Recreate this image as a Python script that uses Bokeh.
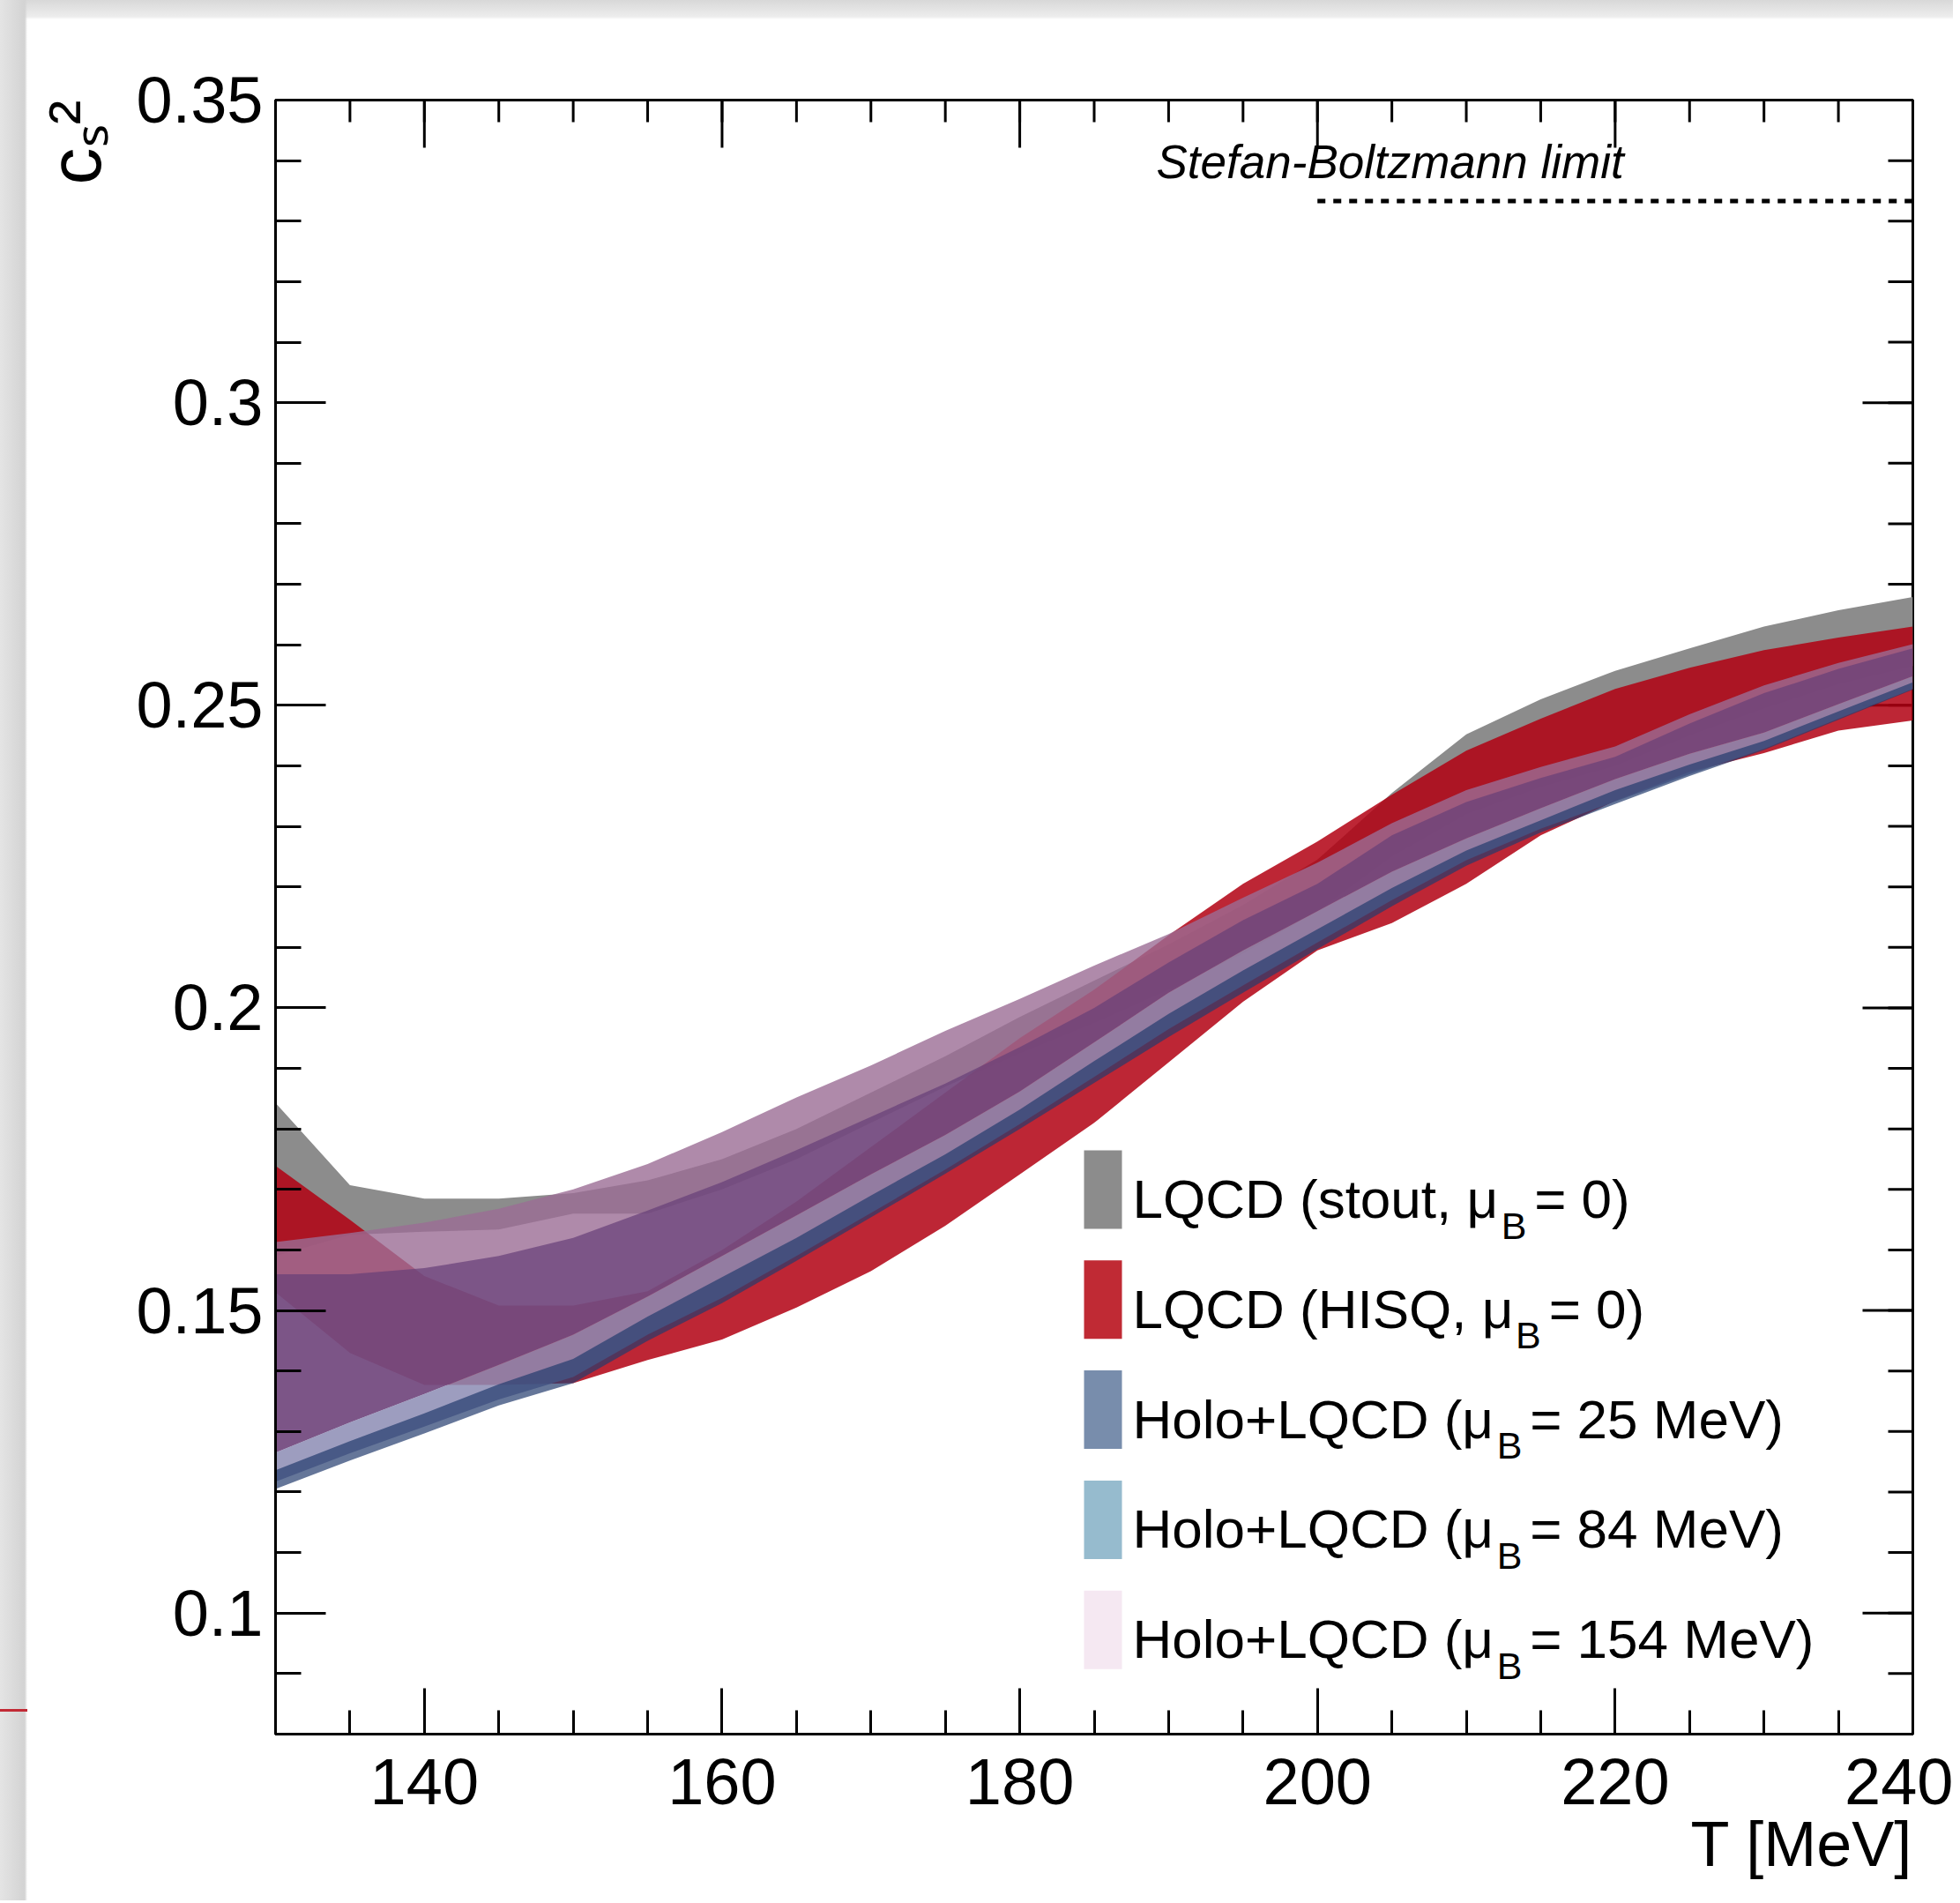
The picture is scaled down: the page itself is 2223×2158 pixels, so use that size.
import math
from bokeh.plotting import figure
from bokeh.models import Range1d, FixedTicker, LinearAxis, Label, BoxAnnotation, Title
from bokeh.embed import file_html
from bokeh.resources import INLINE

# ---------------- data ----------------
T = [130, 135, 140, 145, 150, 155, 160, 165, 170, 175, 180, 185,
     190, 195, 200, 205, 210, 215, 220, 225, 230, 235, 240]

# LQCD stout (mu_B = 0)
stout_lo = [0.1590, 0.1625, 0.1630, 0.1634, 0.1660, 0.1660, 0.1700, 0.1750, 0.1810, 0.1870, 0.1925, 0.1975,
            0.2030, 0.2090, 0.2160, 0.2250, 0.2320, 0.2365, 0.2400, 0.2450, 0.2495, 0.2535, 0.2565]
stout_hi = [0.1843, 0.1707, 0.1685, 0.1685, 0.1694, 0.1715, 0.1750, 0.1800, 0.1860, 0.1920, 0.1985, 0.2045,
            0.2105, 0.2170, 0.2245, 0.2355, 0.2452, 0.2510, 0.2557, 0.2594, 0.2630, 0.2657, 0.2679]

# LQCD HISQ (mu_B = 0)
hisq_lo = [0.1530, 0.1430, 0.1377, 0.1377, 0.1380, 0.1418, 0.1452, 0.1505, 0.1565, 0.1640, 0.1725, 0.1810,
           0.1910, 0.2010, 0.2095, 0.2140, 0.2205, 0.2285, 0.2342, 0.2390, 0.2421, 0.2458, 0.2475]
hisq_hi = [0.1739, 0.1650, 0.1557, 0.1508, 0.1508, 0.1532, 0.1600, 0.1680, 0.1770, 0.1860, 0.1950, 0.2030,
           0.2120, 0.2205, 0.2275, 0.2352, 0.2425, 0.2478, 0.2527, 0.2562, 0.2591, 0.2612, 0.2630]

# Holo+LQCD, mu_B = 25 MeV
holo25_lo = [0.1205, 0.1252, 0.1297, 0.1343, 0.1380, 0.1450, 0.1512, 0.1582, 0.1654, 0.1726, 0.1800, 0.1876,
             0.1952, 0.2025, 0.2097, 0.2168, 0.2235, 0.2290, 0.2337, 0.2383, 0.2426, 0.2476, 0.2526]
holo25_hi = [0.1236, 0.1284, 0.1330, 0.1378, 0.1420, 0.1490, 0.1555, 0.1620, 0.1690, 0.1758, 0.1832, 0.1912,
             0.1990, 0.2062, 0.2130, 0.2198, 0.2260, 0.2310, 0.2360, 0.2402, 0.2441, 0.2490, 0.2538]

# Holo+LQCD, mu_B = 84 MeV
holo84_lo = [0.1217, 0.1264, 0.1308, 0.1353, 0.1390, 0.1460, 0.1521, 0.1590, 0.1661, 0.1733, 0.1808, 0.1886,
             0.1965, 0.2037, 0.2108, 0.2178, 0.2244, 0.2296, 0.2341, 0.2386, 0.2428, 0.2478, 0.2527]
holo84_hi = [0.1265, 0.1315, 0.1362, 0.1410, 0.1460, 0.1523, 0.1590, 0.1657, 0.1725, 0.1790, 0.1862, 0.1943,
             0.2025, 0.2095, 0.2160, 0.2225, 0.2280, 0.2330, 0.2378, 0.2420, 0.2455, 0.2502, 0.2548]

# Holo+LQCD, mu_B = 154 MeV (core and outer envelope, lower edge = holo84_hi)
holo154_core_hi = [0.1560, 0.1560, 0.1570, 0.1590, 0.1620, 0.1665, 0.1712, 0.1765, 0.1820, 0.1875, 0.1935, 0.2000,
                   0.2075, 0.2145, 0.2205, 0.2285, 0.2340, 0.2380, 0.2415, 0.2470, 0.2520, 0.2560, 0.2594]
holo154_outer_hi = [0.1613, 0.1628, 0.1645, 0.1668, 0.1700, 0.1742, 0.1795, 0.1852, 0.1905, 0.1962, 0.2015, 0.2070,
                    0.2122, 0.2182, 0.2240, 0.2305, 0.2360, 0.2398, 0.2432, 0.2485, 0.2533, 0.2570, 0.2601]

# Stefan-Boltzmann limit
sb_T = [200, 240]
sb_val = [1.0 / 3.0, 1.0 / 3.0]

x_major = [140, 160, 180, 200, 220, 240]
x_labels = ["140", "160", "180", "200", "220", "240"]
x_minor = [130, 135, 140, 145, 150, 155, 160, 165, 170, 175, 180, 185, 190, 195, 200, 205, 210, 215, 220, 225, 230, 235, 240]
y_major = [0.1, 0.15, 0.2, 0.25, 0.3, 0.35]
y_labels = ["0.1", "0.15", "0.2", "0.25", "0.3", "0.35"]
y_minor = [0.08, 0.09, 0.10, 0.11, 0.12, 0.13, 0.14, 0.15, 0.16, 0.17, 0.18, 0.19, 0.20, 0.21,
           0.22, 0.23, 0.24, 0.25, 0.26, 0.27, 0.28, 0.29, 0.30, 0.31, 0.32, 0.33, 0.34, 0.35]

x_title = "T [MeV]"
y_title = "c\u209b\u00b2"
sb_text = "Stefan-Boltzmann limit"

legend_entries = [("LQCD (stout, \u03bc", "B", " = 0)"),
                  ("LQCD (HISQ, \u03bc", "B", " = 0)"),
                  ("Holo+LQCD (\u03bc", "B", " = 25 MeV)"),
                  ("Holo+LQCD (\u03bc", "B", " = 84 MeV)"),
                  ("Holo+LQCD (\u03bc", "B", " = 154 MeV)")]
legend_colors = ["#8c8c8c", "#c02a34", "#788dac", "#96bbce", "#f5e8f2"]

# ---------------- layout ----------------
W, H = 2215, 2155
FL, FR, FT, FB = 312, 2169, 113, 1966   # frame edges in page pixels
X0, X1, Y0, Y1 = 130.0, 240.0, 0.08, 0.35
FONT = "Liberation Sans"
BASE_FIX = 0.37   # baseline correction (fraction of font size)


def dx(px):
    return X0 + (px - FL) * (X1 - X0) / (FR - FL)


def dy(py):
    return Y1 - (py - FT) * (Y1 - Y0) / (FB - FT)


def lx(npx):   # pixel length -> data length along x
    return npx * (X1 - X0) / (FR - FL)


def ly(npx):   # pixel length -> data length along y
    return npx * (Y1 - Y0) / (FB - FT)


p = figure(width=W, height=H, x_range=Range1d(X0, X1), y_range=Range1d(Y0, Y1),
           output_backend="svg", toolbar_location=None,
           x_axis_location=None, y_axis_location=None,
           min_border_left=FL, min_border_right=W - FR,
           min_border_top=FT, min_border_bottom=H - FB)
p.xgrid.grid_line_color = None
p.ygrid.grid_line_color = None
p.background_fill_color = "white"
p.border_fill_color = "white"
p.border_fill_alpha = 0.0
p.outline_line_color = "black"
p.outline_line_width = 3
p.styles = {
    "background": ("linear-gradient(#c22a35, #c22a35) 0px 1938px / 31px 3px no-repeat, "
                   "linear-gradient(to right, #e4e4e4 0px, #d3d3d3 28px, rgba(255,255,255,0) 31px), "
                   "linear-gradient(to bottom, #d8d8d8 0px, #ededed 19px, #ffffff 22px)")
}


def make_axis(ticks, minor, labels, tick_in, minor_in):
    ax = LinearAxis(ticker=FixedTicker(ticks=ticks, minor_ticks=minor))
    ax.major_tick_in = tick_in
    ax.major_tick_out = 0
    ax.minor_tick_in = minor_in
    ax.minor_tick_out = 0
    ax.axis_line_width = 3
    ax.major_tick_line_width = 3
    ax.minor_tick_line_width = 3
    ax.axis_line_color = "black"
    ax.major_tick_line_color = "black"
    ax.minor_tick_line_color = "black"
    ax.major_label_overrides = {t: s for t, s in zip(ticks, labels)}
    ax.major_label_text_font = FONT
    ax.major_label_text_font_size = "74px"
    ax.major_label_text_color = "black"
    return ax


xb = make_axis(x_major, x_minor, x_labels, 52, 27)
xb.major_label_standoff = 28
p.add_layout(xb, "below")

yl = make_axis(y_major, y_minor, y_labels, 57, 29)
yl.major_label_standoff = 14
p.add_layout(yl, "left")

# axis titles (ROOT style: at the end of each axis)
p.add_layout(Title(text=x_title, align="right", text_font=FONT, text_font_size="72px",
                   text_font_style="normal", text_color="black", standoff=0, offset=0), "below")
p.add_layout(Title(text=y_title, align="right", text_font=FONT, text_font_size="84px",
                   text_font_style="normal", text_color="black", standoff=40, offset=0), "left")

# mirrored ticks on the top and right frame edges
p.segment(x0=x_major, y0=[Y1] * len(x_major), x1=x_major, y1=[Y1 - ly(54)] * len(x_major),
          line_color="black", line_width=3)
p.segment(x0=x_minor, y0=[Y1] * len(x_minor), x1=x_minor, y1=[Y1 - ly(25)] * len(x_minor),
          line_color="black", line_width=3)
p.segment(x0=[X1] * len(y_major), y0=y_major, x1=[X1 - lx(57)] * len(y_major), y1=y_major,
          line_color="black", line_width=3)
p.segment(x0=[X1] * len(y_minor), y0=y_minor, x1=[X1 - lx(28)] * len(y_minor), y1=y_minor,
          line_color="black", line_width=3)

# ---------------- bands ----------------
p.varea(x=T, y1=stout_lo, y2=stout_hi, fill_color="#8c8c8c", fill_alpha=1.0)
p.varea(x=T, y1=hisq_lo, y2=hisq_hi, fill_color="#b20012", fill_alpha=0.85)
p.varea(x=T, y1=holo84_hi, y2=holo154_outer_hi, fill_color="#9b6d95", fill_alpha=0.8)
p.varea(x=T, y1=holo84_hi, y2=holo154_core_hi, fill_color="#673e77", fill_alpha=0.7)
p.varea(x=T, y1=holo84_lo, y2=holo84_hi, fill_color="#8c8cb4", fill_alpha=0.85)
p.varea(x=T, y1=holo25_lo, y2=holo25_hi, fill_color="#233c6e", fill_alpha=0.7)

# Stefan-Boltzmann limit
p.line(x=sb_T, y=sb_val, line_color="black", line_width=5, line_dash="9 9")
p.add_layout(Label(x=dx(1311), y=dy(203 - BASE_FIX * 53), text=sb_text, text_font=FONT,
                   text_font_size="53px", text_font_style="italic", text_align="left",
                   text_baseline="alphabetic", text_color="black"))

# ---------------- legend ----------------
ARIAL = {' ': 278, '(': 333, ')': 333, ',': 278, '=': 584, '+': 584, 'L': 556, 'Q': 778, 'C': 722,
         'D': 722, 'H': 722, 'I': 278, 'S': 667, 'M': 833, 'V': 667, 'B': 667, 's': 500, 't': 278,
         'o': 556, 'u': 556, 'l': 222, 'e': 556, '\u03bc': 576}


def text_w(s, size):
    return sum(ARIAL.get(c, 556) for c in s) * size / 1000.0 * 0.96


LEG_FS, LEG_SUB = 62, 43
for i, ((a, b, c), col) in enumerate(zip(legend_entries, legend_colors)):
    top = 1304 + i * 124.8
    p.add_layout(BoxAnnotation(left=dx(1229), right=dx(1272), top=dy(top), bottom=dy(top + 89),
                               fill_color=col, fill_alpha=1.0, line_alpha=0))
    base = top + 78
    x1 = 1284
    p.add_layout(Label(x=dx(x1), y=dy(base - BASE_FIX * LEG_FS), text=a, text_font=FONT,
                       text_font_size=f"{LEG_FS}px", text_align="left", text_baseline="alphabetic",
                       text_color="black"))
    x2 = x1 + text_w(a, LEG_FS) + 20
    p.add_layout(Label(x=dx(x2), y=dy(base + 23 - BASE_FIX * LEG_SUB), text=b, text_font=FONT,
                       text_font_size=f"{LEG_SUB}px", text_align="left", text_baseline="alphabetic",
                       text_color="black"))
    x3 = x2 + text_w(b, LEG_SUB) + 10
    p.add_layout(Label(x=dx(x3), y=dy(base - BASE_FIX * LEG_FS), text=c, text_font=FONT,
                       text_font_size=f"{LEG_FS}px", text_align="left", text_baseline="alphabetic",
                       text_color="black"))

open("out.html", "w").write(file_html(p, INLINE))
